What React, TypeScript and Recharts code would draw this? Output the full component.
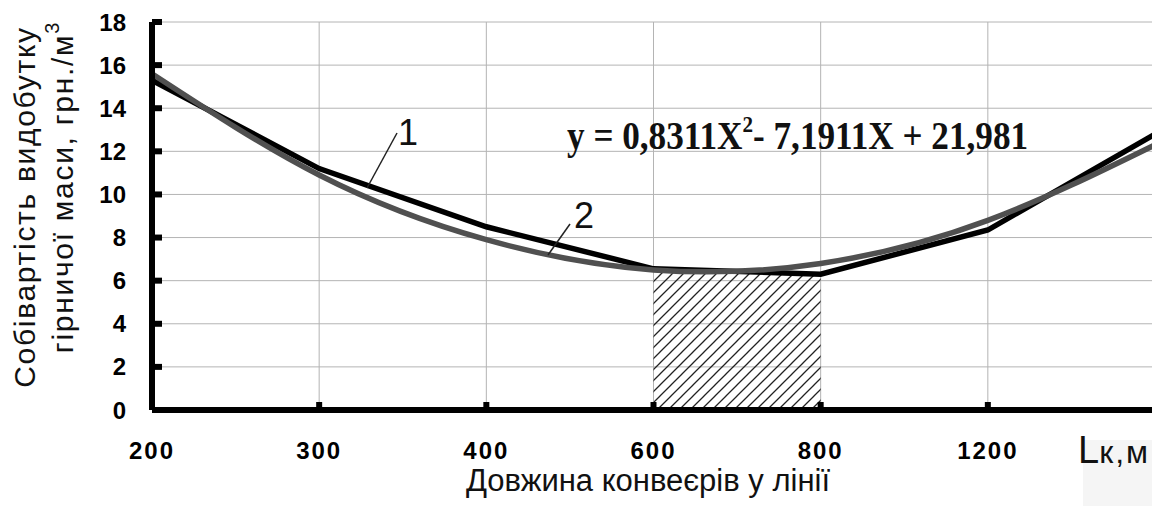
import { ComposedChart, Line, Area, XAxis, YAxis, CartesianGrid } from "recharts";

// conveyor length categories (last one sits at the cut right edge)
const lengths = [200, 300, 400, 600, 800, 1200, 1400];
const tickLabels = ["200", "300", "400", "600", "800", "1200", ""];
const yTicks = [0, 2, 4, 6, 8, 10, 12, 14, 16, 18];

// curve 1 - actual cost, curve 2 - fitted trend
const cost1 = [15.3, 11.2, 8.5, 6.55, 6.3, 8.35, 12.8];
const cost2 = [15.6, 10.9, 7.9, 6.5, 6.8, 8.8, 12.3];
// optimal zone (hatched)
const optimum = [null, null, null, 6.55, 6.3, null, null];

const chartData = lengths.map((len, i) => ({
  len: String(len),
  cost1: cost1[i],
  cost2: cost2[i],
  optimum: optimum[i],
}));

const SANS = "'Liberation Sans', Arial, sans-serif";
const SERIF = "'Liberation Serif', 'Times New Roman', serif";

const App = () => {
  return (
    <div
      style={{
        position: "absolute",
        left: 0,
        top: 0,
        width: 1152,
        height: 506,
        overflow: "hidden",
        background: "#fff",
      }}
    >
      <svg width={0} height={0} style={{ position: "absolute" }}>
        <defs>
          <pattern id="hatch" patternUnits="userSpaceOnUse" width={11} height={11}>
            <path d="M-1,1 l2,-2 M0,11 l11,-11 M10,12 l2,-2" stroke="#222" strokeWidth={1.3} />
          </pattern>
        </defs>
      </svg>

      <ComposedChart
        width={1165}
        height={506}
        data={chartData}
        margin={{ top: 22, right: 10, bottom: 0, left: 0 }}
      >
        <CartesianGrid stroke="#b4b4b4" strokeWidth={1} />
        <XAxis
          dataKey="len"
          height={96}
          interval={0}
          tickFormatter={(_v, i) => tickLabels[i]}
          axisLine={{ stroke: "#000", strokeWidth: 6 }}
          tickLine={{ stroke: "#000", strokeWidth: 6 }}
          tickSize={-8}
          tickMargin={40}
          tick={{ fill: "#000", fontSize: 24, fontWeight: 700, fontFamily: SANS, letterSpacing: 2 }}
        />
        <YAxis
          width={152}
          domain={[0, 18]}
          ticks={yTicks}
          interval={0}
          axisLine={{ stroke: "#000", strokeWidth: 6 }}
          tickLine={{ stroke: "#000", strokeWidth: 6 }}
          tickSize={-10}
          tickMargin={36}
          tick={{ fill: "#000", fontSize: 24, fontWeight: 700, fontFamily: SANS }}
        />
        <Area
          dataKey="optimum"
          type="linear"
          stroke="none"
          fill="url(#hatch)"
          fillOpacity={1}
          baseValue={0}
          isAnimationActive={false}
          dot={false}
          activeDot={false}
        />
        <Line
          dataKey="cost1"
          type="linear"
          stroke="#000"
          strokeWidth={5.5}
          dot={false}
          activeDot={false}
          isAnimationActive={false}
        />
        <Line
          dataKey="cost2"
          type="natural"
          stroke="#505050"
          strokeWidth={5.5}
          dot={false}
          activeDot={false}
          isAnimationActive={false}
        />
      </ComposedChart>

      <svg
        width={1152}
        height={506}
        style={{ position: "absolute", left: 0, top: 0, pointerEvents: "none" }}
      >
        <rect x={1083} y={440} width={69} height={66} fill="#f5f5f5" />
        <g fontFamily={SANS} fontSize={30} fill="#111" letterSpacing={1.7}>
          <text transform="translate(35,207) rotate(-90)" textAnchor="middle">
            Собівартість видобутку
          </text>
          <text transform="translate(73,187) rotate(-90)" textAnchor="middle">
            гірничої маси, грн./м
            <tspan fontSize={20} dy={-14}>3</tspan>
          </text>
        </g>
        <text x={648} y={491} textAnchor="middle" fontFamily={SANS} fontSize={31} fill="#111">
          Довжина конвеєрів у лінії
        </text>
        <text x={1078} y={463} fontFamily={SANS} fill="#111">
          <tspan fontSize={38}>L</tspan>
          <tspan fontSize={32} letterSpacing={2}>к,м</tspan>
        </text>

        <line x1={397} y1={133} x2={367} y2={188} stroke="#222" strokeWidth={1.5} />
        <text x={398} y={145} fontFamily={SANS} fontSize={36} fill="#111">1</text>
        <line x1={570} y1={224} x2={548} y2={255} stroke="#222" strokeWidth={1.5} />
        <text x={574} y={228} fontFamily={SANS} fontSize={36} fill="#111">2</text>

        <text
          transform="translate(567,149) scale(0.88,1)"
          fontFamily={SERIF}
          fontWeight={700}
          fontSize={40}
          fill="#111"
        >
          y = 0,8311X
          <tspan fontSize={24} dy={-17}>2</tspan>
          <tspan dy={17}>- 7,1911X + 21,981</tspan>
        </text>
      </svg>
    </div>
  );
};

export default App;
